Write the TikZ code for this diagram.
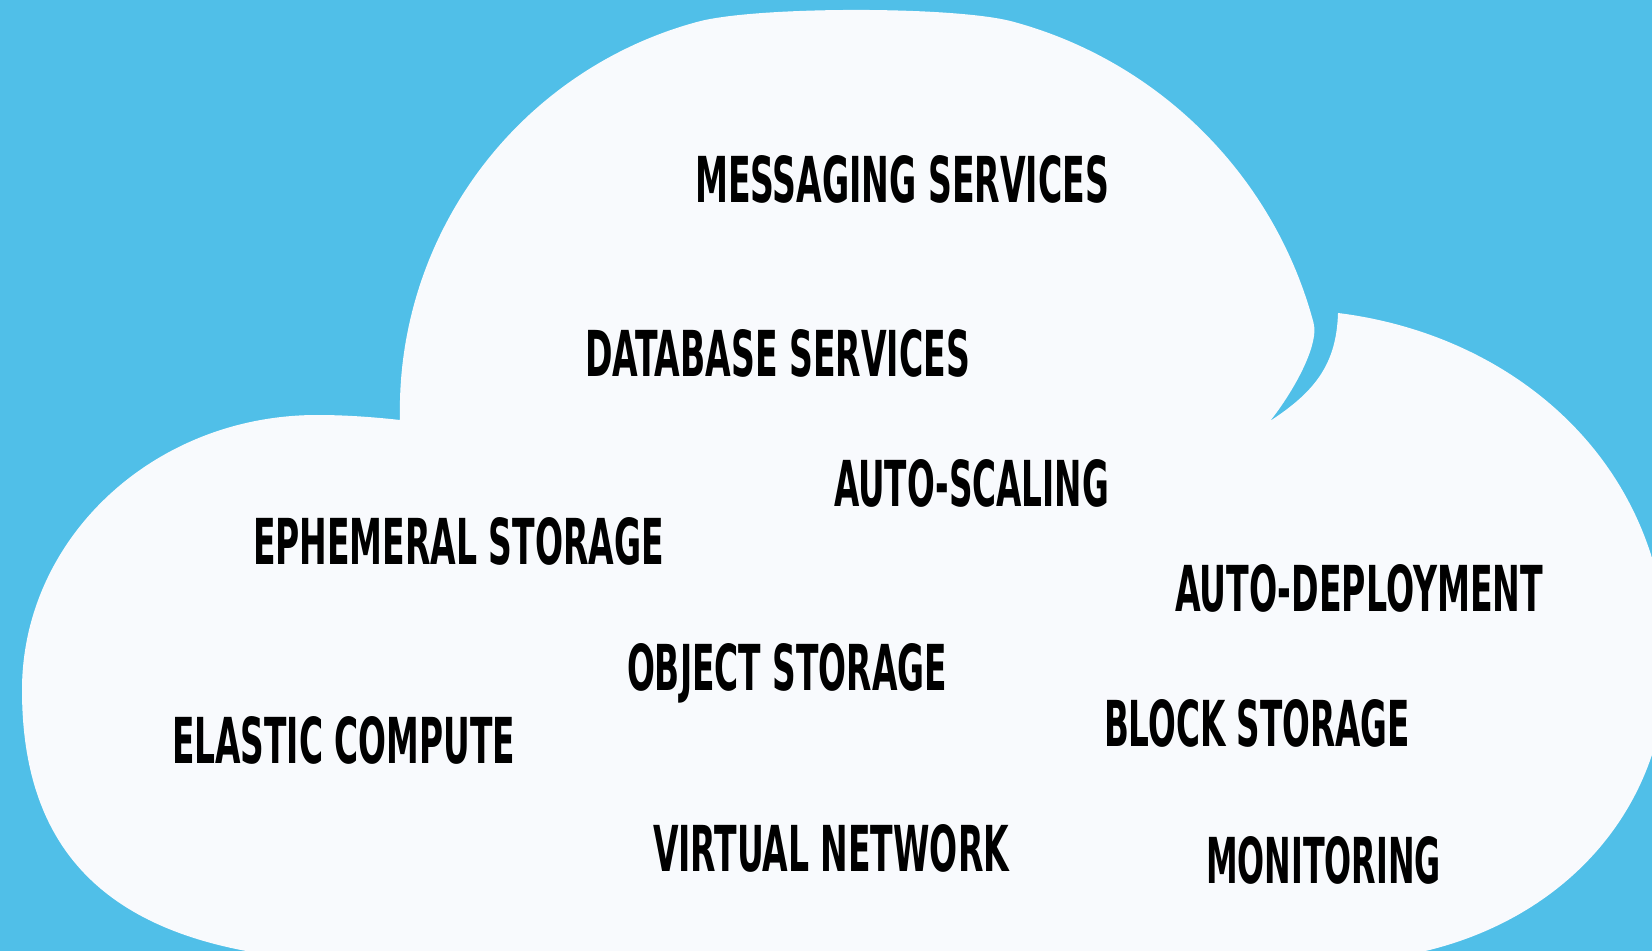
\documentclass[tikz,border=0pt]{standalone}
\usepackage{fontspec}
\IfFontExistsTF{DejaVu Sans Condensed}{\setmainfont{DejaVu Sans Condensed}}{\setmainfont{DejaVu Sans}}
\usepackage{graphicx}
\definecolor{sky}{RGB}{80,191,232}
\definecolor{cloudw}{RGB}{248,250,253}
\newcommand{\cloudlabel}[2]{\resizebox{#1}{23.5pt}{\bfseries #2}}
\tikzset{lbl/.style={anchor=base west, inner sep=0pt, outer sep=0pt, text=black}}
\begin{document}
\begin{tikzpicture}[x=0.5pt,y=-0.5pt]
\useasboundingbox (0,0) rectangle (1652,951);
\clip (0,0) rectangle (1652,951);
\fill[sky] (0,0) rectangle (1652,951);
% cloud outline
\fill[cloudw]
  (380,1010) -- (380,962)
  .. controls (127,962) and (22,869) .. (22,690)
  .. controls (22,538.1) and (154.1,415) .. (317,415)
  .. controls (345,415) and (373,417) .. (400,420)
  .. controls (397.7,329.3) and (426.4,240.6) .. (481.0,168.1)
  .. controls (535.0,96.5) and (611.4,44.9) .. (698.0,21.7)
  .. controls (755.95,6.17) and (954.35,5.97) .. (1012.3,21.5)
  .. controls (1084.5,40.9) and (1150.3,78.9) .. (1203.2,131.8)
  .. controls (1256.1,184.7) and (1294.2,250.5) .. (1313.5,322.7)
  .. controls (1320,346.8) and (1288.9,397.9) .. (1270,421)
  .. controls (1316.2,391) and (1336.5,363) .. (1338,313)
  .. controls (1520.8,335.8) and (1667,469) .. (1667,660)
  .. controls (1667,838) and (1520.7,962) .. (1330,962)
  -- (1330,1010) -- cycle;
% labels
\node[lbl] (msg) at (695,203) {\cloudlabel{207pt}{MESSAGING SERVICES}};
\node[lbl] (db)  at (585,377) {\cloudlabel{192.5pt}{DATABASE SERVICES}};
\node[lbl] (as)  at (834,506) {\cloudlabel{137.5pt}{AUTO-SCALING}};
\node[lbl] (eph) at (253,564) {\cloudlabel{205.5pt}{EPHEMERAL STORAGE}};
\node[lbl] (ad)  at (1175,611) {\cloudlabel{184pt}{AUTO-DEPLOYMENT}};
\node[lbl] (obj) at (627,690) {\cloudlabel{160pt}{OBJECT STORAGE}};
\node[lbl] (blk) at (1104,746) {\cloudlabel{153pt}{BLOCK STORAGE}};
\node[lbl] (ec)  at (172,763) {\cloudlabel{171.5pt}{ELASTIC COMPUTE}};
\node[lbl] (vn)  at (653,871) {\cloudlabel{178pt}{VIRTUAL NETWORK}};
\node[lbl] (mon) at (1206,883) {\cloudlabel{117.5pt}{MONITORING}};
\end{tikzpicture}
\end{document}
